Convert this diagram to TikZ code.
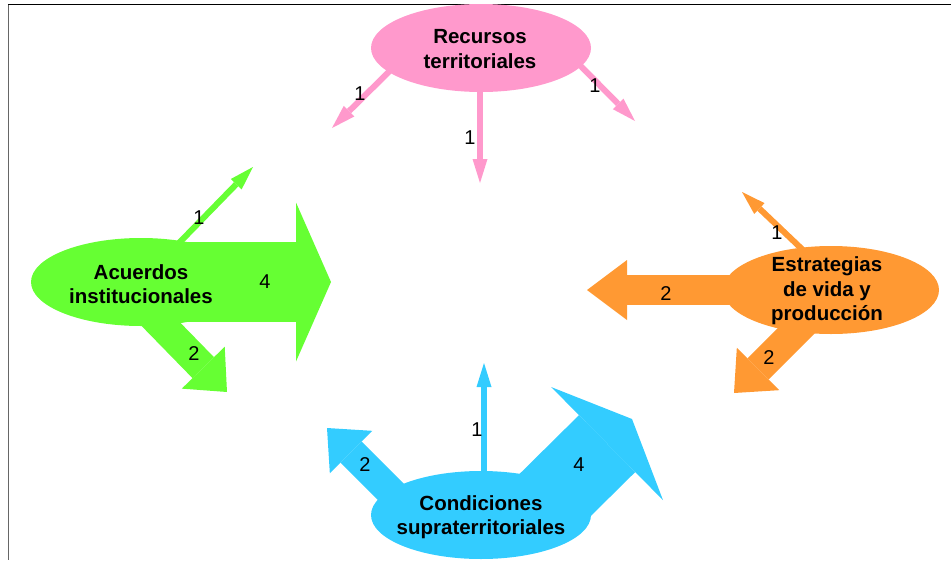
\documentclass[tikz,border=0pt]{standalone}
\usepackage{fontspec}
\setmainfont{Liberation Sans}
\usetikzlibrary{arrows.meta,shapes.geometric,backgrounds,calc}

\definecolor{rosa}{HTML}{FF99CC}
\definecolor{verde}{HTML}{66FF33}
\definecolor{naranja}{HTML}{FF9933}
\definecolor{celeste}{HTML}{33CCFF}

\tikzset{
  campo/.style={ellipse,minimum width=220pt,minimum height=88pt,inner sep=0pt},
  rotulo/.style={align=center,inner sep=0pt,font=\bfseries\fontsize{20.5}{24.5}\selectfont},
  fina/.style={line width=6pt,-{Triangle[width=15pt,length=24pt,line width=0pt]}},
  media/.style={line width=30pt,-{Triangle[width=60pt,length=34pt,line width=0pt]}},
  gruesa/.style={line width=80pt,-{Triangle[width=159pt,length=35pt,line width=0pt]}},
  peso/.style={font=\fontsize{20}{24}\selectfont,inner sep=0pt}
}

\begin{document}
\begin{tikzpicture}[x=1pt,y=-1pt]
  \useasboundingbox (0,0) rectangle (951,560);

  % marco
  \draw[black,line width=1.5pt] (8,4.5) -- (951,4.5);
  \draw[black!60,line width=1.8pt] (8.5,4.5) -- (8.5,560);

  % elipses
  \node[campo,fill=rosa] (rec) at (481,48) {};
  \node[campo,fill=verde] (acu) at (141,282) {};
  \node[campo,fill=naranja,minimum width=216pt] (est) at (831,290) {};
  \node[campo,fill=celeste] (con) at (481,515) {};

  % puntas
  \coordinate (rec-a) at (332,128);
  \coordinate (rec-b) at (480,183);
  \coordinate (rec-c) at (635,121);
  \coordinate (acu-a) at (253,167);
  \coordinate (acu-b) at (331,282);
  \coordinate (acu-c) at (227,392);
  \coordinate (est-a) at (742,192);
  \coordinate (est-b) at (587,290);
  \coordinate (est-c) at (734,393);
  \coordinate (con-a) at (484,363);
  \coordinate (con-b) at (327,428);
  \coordinate (con-c) at (632,419);

  \begin{scope}[on background layer]
    % Recursos territoriales
    \draw[fina,rosa] ($(rec.center)+(-68,0)$) -- (rec-a);
    \draw[fina,rosa] (rec.center -| rec-b) -- (rec-b);
    \draw[fina,rosa] ($(rec.center)+(82,0)$) -- (rec-c);
    % Acuerdos institucionales
    \draw[fina,verde] (acu.center) -- (acu-a);
    \draw[gruesa,verde] (acu.center) -- (acu-b);
    \draw[media,verde] ($(acu.center)+(4,26)$) -- (acu-c);
    % Estrategias de vida y produccion
    \draw[fina,naranja] ($(est.center)+(14,0)$) -- (est-a);
    \draw[media,naranja,-{Triangle[width=60pt,length=40pt,line width=0pt]}]
      (est.center) -- (est-b);
    \draw[media,naranja] ($(est.center)+(-4,10)$) -- (est-c);
    % Condiciones supraterritoriales
    \draw[fina,celeste] (con.center -| con-a) -- (con-a);
    \draw[media,celeste] ($(con.center)+(-72,-5)$) -- (con-b);
    \draw[gruesa,celeste] ($(con.center)+(64,-10)$) -- (con-c);
  \end{scope}

  % rotulos
  \node[rotulo] (rec-t) at ($(rec)+(-1,1)$) {Recursos\\territoriales};
  \node[rotulo] (acu-t) at ($(acu)+(0,2)$) {Acuerdos\\institucionales};
  \node[rotulo] (est-t) at ($(est)+(-4,1)$) {Estrategias\\de vida y\\producción};
  \node[rotulo] (con-t) at ($(con)+(0,2)$) {Condiciones\\supraterritoriales};

  % pesos
  \node[peso] (p-rec-a) at (360,94) {1};
  \node[peso] (p-rec-b) at (470,138) {1};
  \node[peso] (p-rec-c) at (595,86) {1};
  \node[peso] (p-acu-a) at (199,218) {1};
  \node[peso] (p-acu-b) at (265,282) {4};
  \node[peso] (p-acu-c) at (194,354) {2};
  \node[peso] (p-est-a) at (777,233) {1};
  \node[peso] (p-est-b) at (666,294) {2};
  \node[peso] (p-est-c) at (769,358) {2};
  \node[peso] (p-con-a) at (477,430) {1};
  \node[peso] (p-con-b) at (365,465) {2};
  \node[peso] (p-con-c) at (579,465) {4};
\end{tikzpicture}
\end{document}
